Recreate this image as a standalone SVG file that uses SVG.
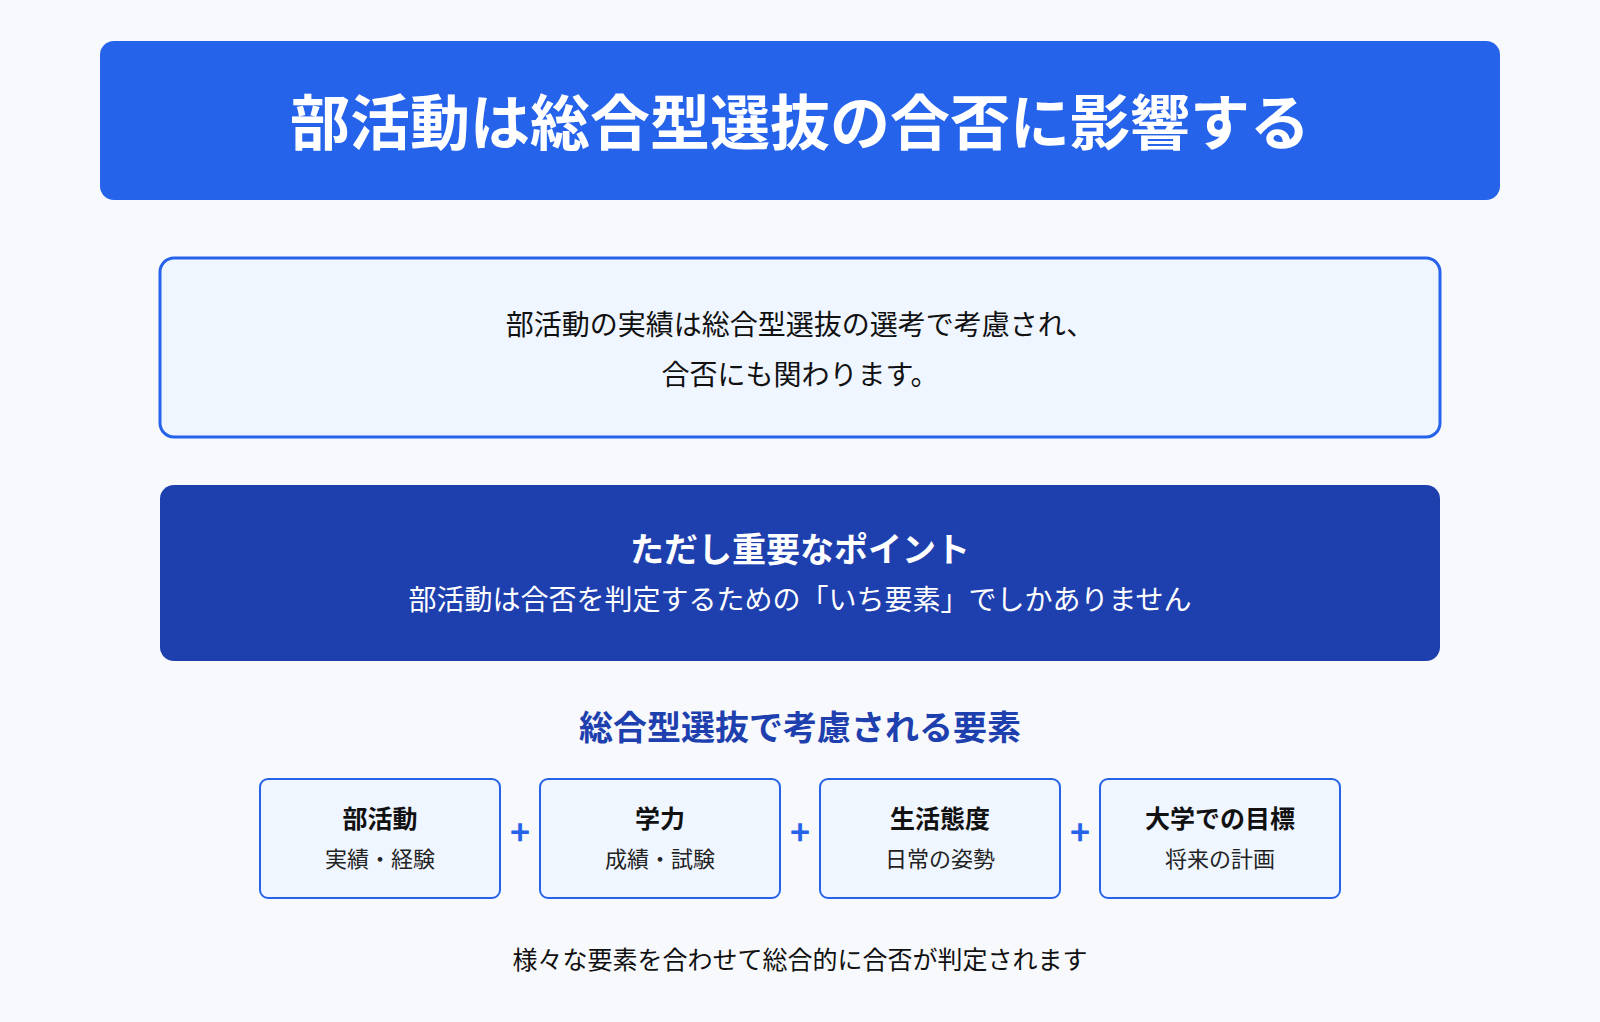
<svg xmlns="http://www.w3.org/2000/svg" width="1600" height="1022" viewBox="0 0 1600 1022">
<style>
text{font-family:"Noto Sans CJK JP","Noto Sans",sans-serif;text-anchor:middle;dominant-baseline:central}
.card{fill:#eff6ff;stroke:#2563eb;stroke-width:2}
.ct{font-size:25px;font-weight:700;fill:#111}
.cs{font-size:22px;fill:#222}
.plus{font-size:34px;font-weight:700;fill:#2563eb}
</style>
<rect width="1600" height="1022" fill="#f8f9fc"/>
<g id="title"><rect x="100" y="41" width="1400" height="159" rx="14" fill="#2563eb"/>
<text x="800" y="118" font-size="60" font-weight="700" fill="#fff">部活動は総合型選抜の合否に影響する</text></g>
<g id="info"><rect x="160" y="258" width="1280" height="179" rx="14" fill="#eff6ff" stroke="#2563eb" stroke-width="3"/>
<text x="800" y="323" font-size="28" fill="#111">部活動の実績は総合型選抜の選考で考慮され、</text>
<text x="800" y="373" font-size="28" fill="#111">合否にも関わります。</text></g>
<g id="point"><rect x="160" y="485" width="1280" height="176" rx="14" fill="#1e40af"/>
<text x="800" y="547" font-size="34" font-weight="700" fill="#fff">ただし重要なポイント</text>
<text x="800" y="598" font-size="28" fill="#fff">部活動は合否を判定するための「いち要素」でしかありません</text></g>
<g id="heading"><text x="800" y="725" font-size="34" font-weight="700" fill="#1e40af">総合型選抜で考慮される要素</text></g>
<g id="n1"><rect class="card" x="260" y="779" width="240" height="119" rx="8"/><text class="ct" x="380" y="817">部活動</text><text class="cs" x="380" y="857">実績・経験</text></g>
<g id="n2"><rect class="card" x="540" y="779" width="240" height="119" rx="8"/><text class="ct" x="660" y="817">学力</text><text class="cs" x="660" y="857">成績・試験</text></g>
<g id="n3"><rect class="card" x="820" y="779" width="240" height="119" rx="8"/><text class="ct" x="940" y="817">生活態度</text><text class="cs" x="940" y="857">日常の姿勢</text></g>
<g id="n4"><rect class="card" x="1100" y="779" width="240" height="119" rx="8"/><text class="ct" x="1220" y="817">大学での目標</text><text class="cs" x="1220" y="857">将来の計画</text></g>
<g id="connectors"><text class="plus" x="520" y="830">+</text><text class="plus" x="800" y="830">+</text><text class="plus" x="1080" y="830">+</text></g>
<g id="footer"><text x="800" y="958" font-size="25" fill="#111">様々な要素を合わせて総合的に合否が判定されます</text></g>
</svg>
